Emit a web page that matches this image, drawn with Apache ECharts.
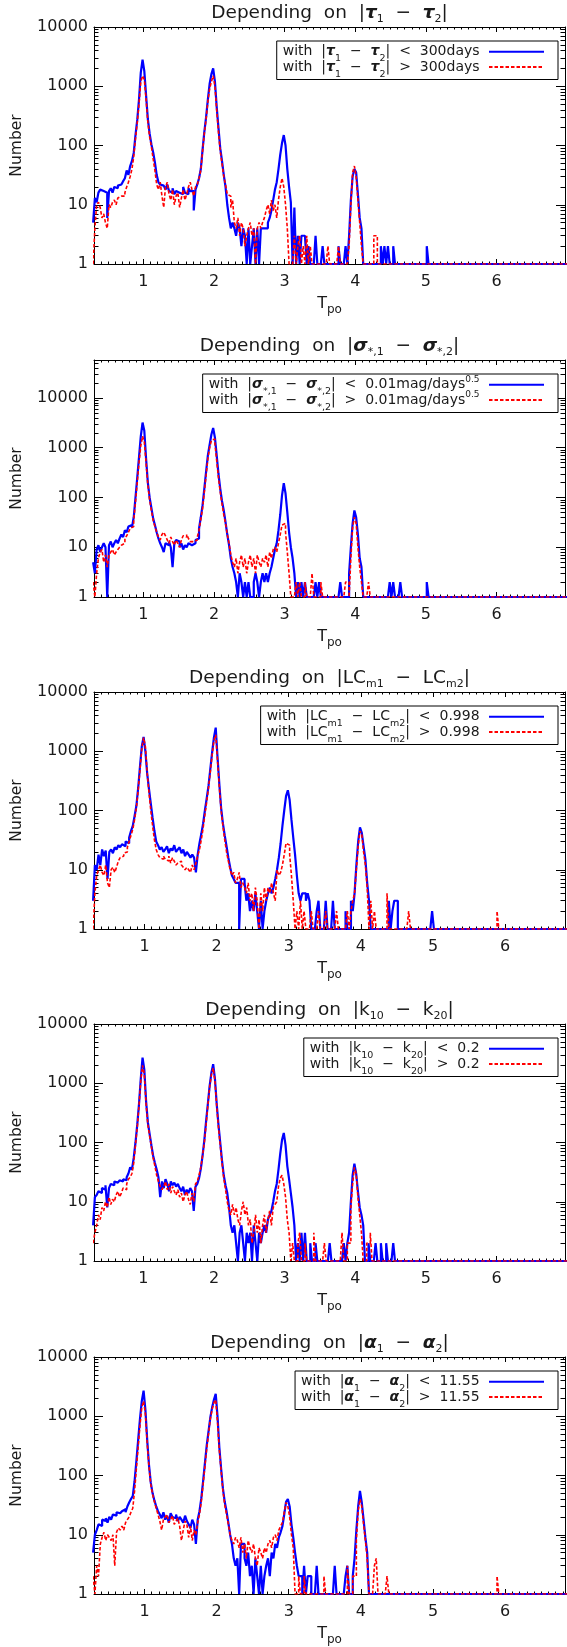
<!DOCTYPE html>
<html><head><meta charset="utf-8">
<script src="https://cdn.jsdelivr.net/npm/echarts@6/dist/echarts.min.js"></script>
<style>html,body{margin:0;padding:0;background:#fff}#c{width:567px;height:1647px}</style>
</head><body><div id="c"></div>
<script>
// ---------- data (histogram counts, bin width 0.025, first bin centred at T_po = 0.3) ----------
const BIN_WIDTH = 0.025;
const FIRST_BIN = 0.3;

const xTickLabels = [1, 2, 3, 4, 5, 6];
const yTickLabels = [1, 10, 100, 1000, 10000];

// Panel 1: |tau1 - tau2|
const p1Blue = [5,13,11,16,18,17,18,16, 6,17,19,16,20,19,21,22, 22,25,28,38,32,45,55,75, 150,270,600,1700,2800,1800,700,280,
  160,105,77,52,32,24,22,21, 20,18,22,17,16,19,15,17, 16,17,15,20,16,15,19,17, 17,8,18,22,28,40,85,170,
  300,600,1100,1600,2000,1200,450,200, 90,55,32,20,10,6,4,5, 4,3,5,4,2,4,3,0, 4,0,2,4,0,4,1,4,
  4,4,4,5,6,8,12,18, 24,40,70,110,150,100,40,20, 11,0,9,0,3,0,3,3, 3,0,2,0,0,0,3,0,
  0,0,2,0,0,0,0,0, 0,0,0,2,0,0,0,2, 0,3,12,30,40,35,15,6, 4,0,0,0,0,0,0,0,
  0,0,0,2,0,2,0,2, 0,0,2,0,0,0,0,0, 0,0,0,0,0,0,0,0, 0,0,0,0,0,2];
const p1Red = [1,4,10,11,9,6,7,5, 4,10,9,11,12,10,13,14, 15,14,16,20,24,30,40,65, 130,240,500,1200,1500,1300,600,250,
  140,95,60,38,22,18,24,14, 9,20,24,15,12,18,10,14, 16,9,13,18,12,15,20,24, 18,14,20,22,28,38,80,160,
  280,550,900,1200,1500,1000,400,170, 80,50,30,22,15,14,9,12, 5,4,6,3,5,4,2,3, 4,5,3,4,0,4,5,4,
  5,6,8,10,7,12,8,10, 6,12,20,28,20,10,4,0, 0,0,3,0,2,3,0,2, 0,3,0,2,0,0,0,0,
  0,0,0,0,0,2,0,0, 0,0,0,2,0,0,0,0, 0,2,10,35,45,30,12,5, 2,0,0,0,0,0,0,3, 3];

// Panel 2: |sigma*,1 - sigma*,2|
const p2Blue = [5,3,9,11,8,10,12,10, 0,11,13,10,12,14,12,15, 18,16,22,20,26,28,25,40, 100,250,650,1700,3200,2200,600,200,
  100,62,38,28,20,15,12,10, 8,12,11,13,10,4,12,14, 13,10,12,9,11,10,12,11, 11,12,14,15,24,40,70,150,
  330,700,1150,1850,2500,1600,700,300, 150,85,55,32,18,11,6,4, 3,2,0,3,2,1,2,0, 2,0,0,2,3,2,0,2,
  3,2,3,2,3,4,6,9, 12,22,45,110,195,120,50,20, 10,6,3,0,2,0,2,0, 2,0,0,0,0,0,2,0,
  2,0,0,0,0,0,0,0, 0,0,0,0,2,0,0,0, 0,3,10,30,55,40,18,6, 4,0,0,0,0,0,0,0,
  0,0,0,0,0,0,0,0, 2,0,2,0,0,0,2,0, 0,0,0,0,0,0,0,0, 0,0,0,0,0,2];
const p2Red = [2,0,3,6,8,9,5,7, 4,7,8,9,7,8,9,10, 11,12,15,17,20,24,26,35, 80,200,500,1100,1700,1300,500,180,
  90,55,35,26,20,16,14,18, 20,17,14,12,16,13,11,14, 12,10,14,17,16,18,15,13, 13,12,14,16,22,36,60,130,
  280,600,1000,1400,1500,1200,550,250, 130,75,45,30,18,12,7,5, 4,6,3,5,7,4,6,3, 5,7,4,6,3,7,5,4,
  6,5,7,4,8,6,9,10, 8,12,18,28,30,20,8,3, 0,0,0,2,0,2,0,0, 2,0,0,0,3,0,0,0,
  0,2,0,0,0,0,0,0, 0,0,0,0,0,0,0,2, 2,0,6,25,40,30,10,4, 2,0,0,0,2];

// Panel 3: |LCm1 - LCm2|
const p3Blue = [3,12,10,18,12,22,17,21, 7,20,22,19,24,22,26,24, 27,25,30,28,35,45,55,80, 120,240,550,1200,1750,1000,420,230,
  130,75,45,30,26,22,24,20, 22,25,19,23,21,26,20,22, 24,19,22,17,20,18,16,18, 16,9,18,28,40,60,100,160,
  260,500,950,1700,2500,800,280,110, 60,38,25,16,11,8,7,6, 6,0,7,7,6,3,4,2, 3,2,4,2,0,3,0,2,
  3,4,5,4,5,7,10,16, 28,55,100,175,220,150,70,35, 18,8,4,3,4,4,3,4, 3,0,0,0,2,3,0,0,
  0,3,0,0,0,3,0,0, 0,0,0,0,2,0,0,3, 2,4,12,30,52,42,25,15, 6,3,0,0,0,0,0,0,
  0,0,0,0,3,0,2,3, 3,0,0,0,0,0,0,0, 0,0,0,0,0,0,0,0, 0,0,0,0,2];
const p3Red = [1,4,8,10,12,9,8,12, 6,5,10,11,9,11,14,16, 17,19,20,24,30,38,48,70, 110,220,480,1100,1700,1200,430,200,
  100,55,32,22,18,16,15,17, 15,14,17,13,16,14,12,13, 14,12,11,10,11,10,9,12, 10,13,17,22,32,50,85,140,
  240,450,850,1500,1900,700,250,100, 55,32,20,14,10,8,9,6, 7,9,5,6,5,4,6,3, 4,2,5,3,0,4,2,5,
  3,5,4,6,4,3,10,8, 9,12,18,28,26,18,8,3, 0,2,0,3,0,2,0,0, 0,2,0,0,0,2,0,0,
  0,2,0,0,0,0,0,2, 0,0,0,0,0,2,0,2, 3,4,10,25,45,40,20,12, 5,0,3,0,2,0,0,0,
  0,0,0,4,0,0,0,0, 0,0,0,0,0,0,0,2, 0,0,0,0,0,0,0,0, 0,0,0,0,0,0,0,0, 0,0,0,0,0,0,0,0,
  0,0,0,0,0,0,0,0, 0,0,0,0,0,0,0,0, 0,0,0,0,0,0,0,0, 2];

// Panel 4: |k10 - k20|
const p4Blue = [4,12,13,15,14,17,16,19, 8,17,20,19,22,21,20,23, 22,24,23,26,30,38,35,55, 100,200,450,1200,2700,1700,500,220,
  140,90,60,45,35,26,12,22, 17,24,20,15,22,19,21,18, 20,17,15,18,13,16,14,17, 15,7,18,20,25,36,60,110,
  230,450,900,1500,2100,1200,450,200, 100,50,28,19,14,8,4,3, 4,2,0,3,4,2,0,3, 2,3,0,4,2,0,3,2,
  3,4,3,5,6,7,10,15, 20,35,65,110,145,90,40,24, 14,8,4,0,2,0,3,0, 3,0,0,2,0,0,2,0,
  0,0,0,0,0,0,2,0, 0,0,0,0,0,0,2,0, 2,3,10,28,44,30,15,8, 6,4,0,0,2,0,0,0,
  2,0,0,2,0,0,2,0, 0,0,2];
const p4Red = [2,3,4,6,5,8,7,10, 8,12,9,11,10,13,15,12, 14,17,16,20,24,26,30,45, 90,180,420,1100,2000,1400,450,200,
  130,85,55,40,28,22,18,16, 18,22,16,20,14,18,15,13, 16,12,14,10,13,15,11,9, 14,10,20,22,28,38,60,100,
  200,420,850,1400,1800,1100,420,180, 90,45,25,16,10,7,6,9, 6,8,5,4,7,10,6,8, 4,5,2,3,6,3,5,2,
  4,6,3,5,7,4,8,9, 10,18,25,28,20,12,5,3, 0,2,0,0,2,3,0,0, 2,0,0,0,0,3,0,0,
  0,0,0,2,0,0,0,0, 0,0,0,0,0,3,0,0, 2,2,8,20,38,30,12,6, 3,0,0,2,2,3];

// Panel 5: |alpha1 - alpha2|
const p5Blue = [5,10,12,15,14,18,17,19, 16,20,18,22,21,24,23,22, 25,27,24,30,35,40,45,80, 175,400,900,1800,2700,1300,400,150,
  75,50,38,30,25,22,19,24, 18,21,16,23,20,19,22,17, 20,18,16,21,17,15,13,18, 15,7,18,25,41,80,160,320,
  550,950,1400,1900,2400,1000,300,130, 60,36,25,16,10,7,4,3, 4,0,7,7,4,3,5,2, 3,0,4,2,0,3,0,2,
  3,4,2,5,4,7,6,9, 11,14,22,36,40,30,15,9, 5,3,2,2,0,3,0,2, 2,0,0,0,3,0,0,0,
  0,0,0,0,0,0,3,0, 0,0,0,0,2,3,0,0, 2,4,12,30,55,35,18,9, 5];
const p5Red = [2,1,3,2,7,9,11,8, 10,9,8,10,3,11,13,12, 14,12,16,18,20,24,28,55, 130,300,700,1400,1800,1100,350,140,
  70,48,36,28,22,17,12,18, 20,22,16,18,21,15,17,19, 14,8,12,17,15,9,14,8, 12,10,16,22,36,70,140,280,
  500,900,1300,1700,1900,800,270,120, 55,32,22,15,10,8,7,9, 8,6,9,5,7,4,8,6, 5,7,4,3,6,5,4,6,
  5,7,8,6,9,10,8,12, 14,16,24,35,30,20,10,6, 0,0,2,0,0,2,0,0, 0,0,0,0,0,0,0,0,
  2,0,0,0,0,0,0,0, 0,0,0,0,0,3,0,0, 2,2,8,25,40,30,15,8, 4,0,0,0,3,4,0,0,
  0,0,0,2,0,0,0,0, 0,0,0,0,0,0,0,0, 0,0,0,0,0,0,0,0, 0,0,0,0,0,0,0,0, 0,0,0,0,0,0,0,0,
  0,0,0,0,0,0,0,0, 0,0,0,0,0,0,0,0, 0,0,0,0,0,0,0,0, 2];

// ---------- text ----------
const titles = [
  'Depending  on  |{g|τ}{s|1}  −  {g|τ}{s|2}|',
  'Depending  on  |{g|σ}{s|*,1}  −  {g|σ}{s|*,2}|',
  'Depending  on  |LC{s|m1}  −  LC{s|m2}|',
  'Depending  on  |k{s|10}  −  k{s|20}|',
  'Depending  on  |{g|α}{s|1}  −  {g|α}{s|2}|'
];
const legendHeads = [
  'with  |{g|τ}{s|1}  −  {g|τ}{s|2}|  ',
  'with  |{g|σ}{s|*,1}  −  {g|σ}{s|*,2}|  ',
  'with  |LC{s|m1}  −  LC{s|m2}|  ',
  'with  |k{s|10}  −  k{s|20}|  ',
  'with  |{g|α}{s|1}  −  {g|α}{s|2}|  '
];
const legendTails = ['300days', '0.01mag/days{p|0.5}', '0.998', '0.2', '11.55'];

// ---------- layout ----------
const FONT = '"DejaVu Sans", sans-serif';
const INK = '#1a1a1a';
const panelTops = [27, 360, 692, 1024, 1357];
const panelH = 237, gridLeft = 94, gridRight = 2;
const xMaxes = [6.97, 6.97, 6.83, 6.97, 6.83];
const yMaxes = [10000, 58000, 10000, 10000, 10000];
const blues = [p1Blue, p2Blue, p3Blue, p4Blue, p5Blue];
const reds = [p1Red, p2Red, p3Red, p4Red, p5Red];

function stepPoints(counts, xMax) {
  const pts = counts.map((c, i) => [FIRST_BIN + (i - 0.5) * BIN_WIDTH, Math.max(c, 1)]);
  pts.push([FIRST_BIN + (counts.length - 0.5) * BIN_WIDTH, 1]);
  pts.push([xMax + 0.2, 1]);
  return pts;
}
function xMinorTicks(xMax) {
  const a = [];
  for (let k = 4; k <= Math.floor(xMax * 10 + 1e-9); k++) a.push(k / 10);
  return a;
}
function yMinorTicks(yMax) {
  const a = [];
  for (const d of yTickLabels) for (let m = 2; m <= 9; m++) if (d * m <= yMax) a.push(d * m);
  return a;
}

const titleRich = {
  g: { fontFamily: FONT, fontSize: 18.5, fontWeight: 'bold', fontStyle: 'italic', color: INK, lineHeight: 24 },
  s: { fontFamily: FONT, fontSize: 11, color: INK, padding: [12, 0, 0, 0], lineHeight: 24 }
};
const legendRich = {
  g: { fontFamily: FONT, fontSize: 14, fontWeight: 'bold', fontStyle: 'italic', color: INK, lineHeight: 15 },
  s: { fontFamily: FONT, fontSize: 9.5, color: INK, padding: [14, 0, 0, 0], lineHeight: 15 },
  p: { fontFamily: FONT, fontSize: 9, color: INK, padding: [0, 0, 10, 0], lineHeight: 15 }
};

const grid = [], xAxis = [], yAxis = [], title = [], legend = [], series = [];
for (let i = 0; i < 5; i++) {
  const xMax = xMaxes[i], yMax = yMaxes[i];
  grid.push({ left: gridLeft, right: gridRight, top: panelTops[i], height: panelH, outerBoundsMode: 'none', containLabel: false });
  const xBase = { type: 'value', gridIndex: i, min: 0.3, max: xMax, splitLine: { show: false }, minorTick: { show: false } };
  const tickLine = { color: '#000', width: 1 };
  xAxis.push(Object.assign({}, xBase, {
    position: 'bottom',
    axisLine: { show: true, onZero: false, lineStyle: { color: '#000', width: 1 } },
    axisTick: { show: true, inside: true, length: 5, customValues: xTickLabels, lineStyle: tickLine },
    axisLabel: { show: true, customValues: xTickLabels, margin: 10, fontFamily: FONT, fontSize: 16, color: INK },
    name: '{t|T}{s|po}', nameLocation: 'middle', nameGap: 29,
    nameTextStyle: { rich: {
      t: { fontFamily: FONT, fontSize: 16, color: INK, lineHeight: 20 },
      s: { fontFamily: FONT, fontSize: 12, color: INK, padding: [13, 0, 0, 0], lineHeight: 20 } } }
  }));
  xAxis.push(Object.assign({}, xBase, {
    position: 'bottom', axisLine: { show: false, onZero: false },
    axisTick: { show: true, inside: true, length: 2.5, customValues: xMinorTicks(xMax), lineStyle: tickLine },
    axisLabel: { show: false }
  }));
  xAxis.push(Object.assign({}, xBase, {
    position: 'top',
    axisLine: { show: true, onZero: false, lineStyle: { color: '#000', width: 1 } },
    axisTick: { show: true, inside: true, length: 5, customValues: xTickLabels, lineStyle: tickLine },
    axisLabel: { show: false }
  }));
  xAxis.push(Object.assign({}, xBase, {
    position: 'top', axisLine: { show: false, onZero: false },
    axisTick: { show: true, inside: true, length: 2.5, customValues: xMinorTicks(xMax), lineStyle: tickLine },
    axisLabel: { show: false }
  }));

  const yBase = { type: 'log', logBase: 10, gridIndex: i, min: 1, max: yMax, splitLine: { show: false }, minorTick: { show: false } };
  yAxis.push(Object.assign({}, yBase, {
    position: 'left',
    axisLine: { show: true, onZero: false, lineStyle: { color: '#000', width: 1 } },
    axisTick: { show: true, inside: true, length: 9, customValues: yTickLabels, lineStyle: tickLine },
    axisLabel: { show: true, customValues: yTickLabels, margin: 6, fontFamily: FONT, fontSize: 16, color: INK,
      formatter: v => String(Math.round(v)) },
    name: 'Number', nameLocation: 'middle', nameGap: 69,
    nameTextStyle: { fontFamily: FONT, fontSize: 15.5, color: INK }
  }));
  yAxis.push(Object.assign({}, yBase, {
    position: 'left', axisLine: { show: false, onZero: false },
    axisTick: { show: true, inside: true, length: 4.5, customValues: yMinorTicks(yMax), lineStyle: tickLine },
    axisLabel: { show: false }
  }));
  yAxis.push(Object.assign({}, yBase, {
    position: 'right',
    axisLine: { show: true, onZero: false, lineStyle: { color: '#000', width: 1 } },
    axisTick: { show: true, inside: true, length: 9, customValues: yTickLabels, lineStyle: tickLine },
    axisLabel: { show: false }
  }));
  yAxis.push(Object.assign({}, yBase, {
    position: 'right', axisLine: { show: false, onZero: false },
    axisTick: { show: true, inside: true, length: 4.5, customValues: yMinorTicks(yMax), lineStyle: tickLine },
    axisLabel: { show: false }
  }));

  title.push({
    text: titles[i], left: (gridLeft + 567 - gridRight) / 2, textAlign: 'center', top: panelTops[i] - 26, padding: 0,
    textStyle: { fontFamily: FONT, fontSize: 18.5, fontWeight: 'normal', color: INK, lineHeight: 24, rich: titleRich }
  });

  const nLo = 'p' + (i + 1) + ' below', nHi = 'p' + (i + 1) + ' above';
  const legendText = {};
  legendText[nLo] = legendHeads[i] + '<  ' + legendTails[i];
  legendText[nHi] = legendHeads[i] + '>  ' + legendTails[i];
  legend.push({
    data: [nLo, nHi], orient: 'vertical', align: 'right', right: 9, top: panelTops[i] + 14,
    itemWidth: 55, itemHeight: 12, itemGap: -8.6, padding: [-1.3, 13, 0.4, 6],
    borderColor: '#000', borderWidth: 1, backgroundColor: '#fff', selectedMode: false,
    itemStyle: { opacity: 0, borderWidth: 0 },
    formatter: name => legendText[name] + ' ',
    textStyle: { fontFamily: FONT, fontSize: 14, color: INK, lineHeight: 15, rich: legendRich }
  });

  series.push({
    type: 'line', name: nLo, xAxisIndex: 4 * i, yAxisIndex: 4 * i, data: stepPoints(blues[i], xMax),
    step: 'end', symbol: 'none', showSymbol: false, silent: true, z: 2,
    lineStyle: { color: '#0000ff', width: 2.2 }, itemStyle: { color: '#0000ff' }
  });
  series.push({
    type: 'line', name: nHi, xAxisIndex: 4 * i, yAxisIndex: 4 * i, data: stepPoints(reds[i], xMax),
    step: 'end', symbol: 'none', showSymbol: false, silent: true, z: 3,
    lineStyle: { color: '#ff0000', width: 1.6, type: [3.5, 2] }, itemStyle: { color: '#ff0000' }
  });
}

const chart = echarts.init(document.getElementById('c'), null, { renderer: 'canvas' });
chart.setOption({ animation: false, backgroundColor: '#fff', grid, xAxis, yAxis, title, legend, series });
</script>
</body></html>
